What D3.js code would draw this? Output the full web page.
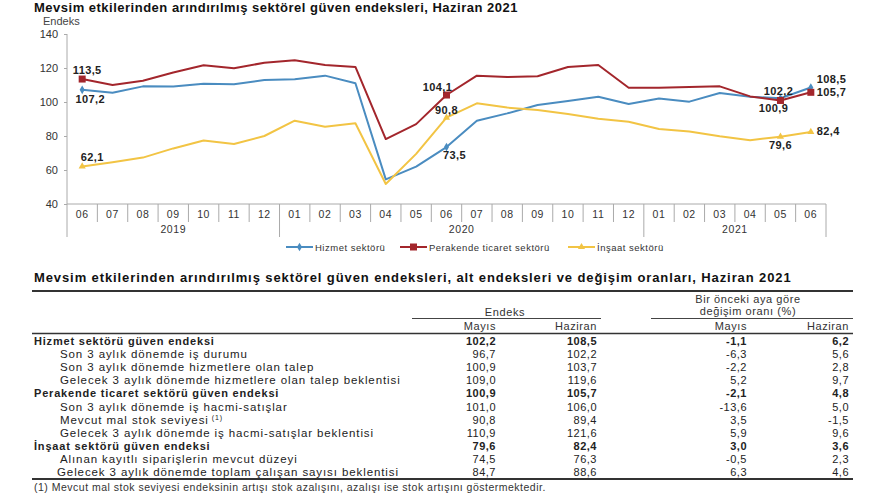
<!DOCTYPE html>
<html><head><meta charset="utf-8">
<script src="https://cdn.jsdelivr.net/npm/d3@7"></script>
<style>
body{margin:0;background:#fff}
text{font-family:"Liberation Sans",Arial,sans-serif}
</style>
</head><body>
<svg id="c" width="880" height="495"></svg>
<script>
// ---------- chart data ----------
const months = ["06","07","08","09","10","11","12","01","02","03","04","05","06","07","08","09","10","11","12","01","02","03","04","05","06"];
const yearLabels = ["2019","2020","2021"];
const yearStart = [0,7,19];
const yearEnd = [6,18,24];
const yTicks = [40,60,80,100,120,140];
const seriesNames = ["Hizmet sektörü","Perakende ticaret sektörü","İnşaat sektörü"];
const hizmet    = [107.2,105.5,109.2,109.1,110.8,110.4,112.9,113.4,115.5,111.0,54.5,62.0,73.5,89.0,93.3,98.2,100.6,103.1,98.8,102.0,100.2,105.3,103.1,102.2,108.5];
const perakende = [113.5,110.0,112.5,117.3,121.6,119.8,123.1,124.5,121.8,120.6,78.2,87.0,104.1,115.5,114.7,115.1,120.6,121.8,108.4,108.4,108.8,109.2,103.3,100.9,105.7];
const insaat    = [62.1,64.5,67.3,72.7,77.3,75.3,80.0,89.0,85.5,87.5,51.8,69.5,90.8,99.2,96.7,95.3,92.9,90.2,88.4,84.1,82.7,79.8,77.5,79.6,82.4];
const markedIdx = [0,12,23,24];

// ---------- table data ----------
const tableTitle = "Mevsim etkilerinden arındırılmış sektörel güven endeksleri, alt endeksleri ve değişim oranları, Haziran 2021";
const rowLabels = ["Hizmet sektörü güven endeksi","Son 3 aylık dönemde iş durumu","Son 3 aylık dönemde hizmetlere olan talep","Gelecek 3 aylık dönemde hizmetlere olan talep beklentisi","Perakende ticaret sektörü güven endeksi","Son 3 aylık dönemde iş hacmi-satışlar","Mevcut mal stok seviyesi","Gelecek 3 aylık dönemde iş hacmi-satışlar beklentisi","İnşaat sektörü güven endeksi","Alınan kayıtlı siparişlerin mevcut düzeyi","Gelecek 3 aylık dönemde toplam çalışan sayısı beklentisi"];
const rowLevel = [0,1,1,1,0,1,1,1,0,1,1];
const rowNote = ["","","","","","","(1)","","","",""];
const idxMayis   = [102.2,96.7,100.9,109.0,100.9,101.0,90.8,110.9,79.6,74.5,84.7];
const idxHaziran = [108.5,102.2,103.7,119.6,105.7,106.0,89.4,121.6,82.4,76.3,88.6];
const chgMayis   = [-1.1,-6.3,-2.2,5.2,-2.1,-13.6,3.5,5.9,3.0,-0.5,6.3];
const chgHaziran = [6.2,5.6,2.8,9.7,4.8,5.0,-1.5,9.6,3.6,2.3,4.6];
const footnote = "(1) Mevcut mal stok seviyesi endeksinin artışı stok azalışını, azalışı ise stok artışını göstermektedir.";

const fmt = v => d3.format(".1f")(v).replace(".", ",").replace("−","-");

const svg = d3.select("#c");
const colors = ["#4a8cc0","#a3262c","#f2c444"];
const series = [hizmet, perakende, insaat];

// title
svg.append("text").attr("x",34).attr("y",12).attr("font-size",13).attr("font-weight","bold")
  .attr("letter-spacing",0.5).attr("fill","#111")
  .text("Mevsim etkilerinden arındırılmış sektörel güven endeksleri, Haziran 2021");

const x = d3.scaleBand().domain(d3.range(months.length)).range([67,826]).padding(0);
const xc = i => x(i) + x.bandwidth()/2;
const y = d3.scaleLinear().domain([40,140]).range([204,34]);

// y axis
const yAx = svg.append("g").attr("transform","translate(67,0)")
  .call(d3.axisLeft(y).tickValues(yTicks).tickSize(3).tickPadding(6));
yAx.select(".domain").remove();
yAx.selectAll("line").attr("stroke","#aaa");
yAx.selectAll("text").attr("font-size",11).attr("fill","#333").attr("font-family","Liberation Sans, Arial, sans-serif");
svg.append("line").attr("x1",67).attr("x2",67).attr("y1",34).attr("y2",237).attr("stroke","#aaa");
svg.append("text").attr("x",43).attr("y",25).attr("font-size",11).attr("fill","#444").text("Endeks");

// x axis
svg.append("line").attr("x1",67).attr("x2",826).attr("y1",y(40)).attr("y2",y(40)).attr("stroke","#aaa");
const bounds = d3.range(1, months.length+1);
svg.selectAll(".sep").data(bounds).join("line")
  .attr("x1",i=>x(i-1)+x.bandwidth()).attr("x2",i=>x(i-1)+x.bandwidth())
  .attr("y1",y(40))
  .attr("y2",i=> (yearStart.includes(i) || i===months.length) ? 237 : 222)
  .attr("stroke","#aaa");
svg.selectAll(".mlab").data(months).join("text")
  .attr("x",(d,i)=>xc(i)).attr("y",218).attr("text-anchor","middle")
  .attr("font-size",10.5).attr("fill","#333").attr("letter-spacing",0.6).text(d=>d);
svg.selectAll(".ylab").data(yearLabels).join("text")
  .attr("x",(d,i)=>(xc(yearStart[i])+xc(yearEnd[i]))/2).attr("y",233).attr("text-anchor","middle")
  .attr("font-size",10.5).attr("fill","#333").attr("letter-spacing",0.6).text(d=>d);

// lines
const line = d3.line().x((d,i)=>xc(i)).y(d=>y(d));
series.forEach((s,k)=>{
  svg.append("path").datum(s).attr("d",line).attr("fill","none")
    .attr("stroke",colors[k]).attr("stroke-width",2).attr("stroke-linejoin","round");
});

function marker(g, k, cx, cy){
  if(k===0) g.append("path").attr("d",d3.symbol(d3.symbolDiamond,22)()).attr("transform",`translate(${cx},${cy})`).attr("fill",colors[0]);
  if(k===1) g.append("rect").attr("x",cx-3.5).attr("y",cy-3.5).attr("width",7).attr("height",7).attr("fill",colors[1]);
  if(k===2) g.append("path").attr("d",d3.symbol(d3.symbolTriangle,22)()).attr("transform",`translate(${cx},${cy})`).attr("fill",colors[2]);
}
series.forEach((s,k)=>{
  markedIdx.forEach(i=>marker(svg,k,xc(i),y(s[i])));
});

// annotation placements (series, index, dx, dy, anchor)
const annS = [1,0,2, 1,2,0, 0,1, 0,1, 2,2];
const annI = [0,0,0, 12,12,12, 23,23, 24,24, 23,24];
const annDx= [5,8,10, -9,0,8, -2,-7, 6,6, 0,6];
const annDy= [-5,13,-5, -4,-4,12, -3,12, -4.5,4, 12,3];
const annA = ["middle","middle","middle","middle","middle","middle","middle","middle","start","start","middle","start"];
annS.forEach((k,j)=>{
  const i = annI[j];
  svg.append("text").attr("x",xc(i)+annDx[j]).attr("y",y(series[k][i])+annDy[j])
    .attr("text-anchor",annA[j]).attr("font-size",11).attr("font-weight","bold")
    .attr("fill","#222").attr("letter-spacing",0.4).text(fmt(series[k][i]));
});

// legend
const legX = [286,400,568];
const legW = 27;
seriesNames.forEach((n,k)=>{
  const g = svg.append("g");
  g.append("line").attr("x1",legX[k]).attr("x2",legX[k]+legW).attr("y1",247).attr("y2",247).attr("stroke",colors[k]).attr("stroke-width",2);
  marker(g,k,legX[k]+legW/2,247);
  g.append("text").attr("x",legX[k]+legW+2).attr("y",250.5).attr("font-size",9.5).attr("fill","#333").attr("letter-spacing",0.5).text(n);
});

// ---------- table ----------
svg.append("text").attr("x",34).attr("y",282).attr("font-size",13).attr("font-weight","bold")
  .attr("letter-spacing",0.9).attr("fill","#111").text(tableTitle);
svg.append("line").attr("x1",32).attr("x2",853).attr("y1",291).attr("y2",291).attr("stroke","#333").attr("stroke-width",2);
svg.append("text").attr("x",505).attr("y",316).attr("text-anchor","middle").attr("font-size",11).attr("fill","#333").attr("letter-spacing",0.6).text("Endeks");
svg.append("text").attr("x",748).attr("y",303).attr("text-anchor","middle").attr("font-size",11).attr("fill","#333").attr("letter-spacing",0.6).text("Bir önceki aya göre");
svg.append("text").attr("x",748).attr("y",315).attr("text-anchor","middle").attr("font-size",11).attr("fill","#333").attr("letter-spacing",0.6).text("değişim oranı (%)");
svg.append("line").attr("x1",412).attr("x2",601).attr("y1",318.5).attr("y2",318.5).attr("stroke","#444");
svg.append("line").attr("x1",651).attr("x2",853).attr("y1",318.5).attr("y2",318.5).attr("stroke","#444");
const colRight = [496,597,747,849];
const colHead = ["Mayıs","Haziran","Mayıs","Haziran"];
colHead.forEach((h,c)=>svg.append("text").attr("x",colRight[c]).attr("y",330).attr("text-anchor","end")
  .attr("font-size",11).attr("fill","#333").attr("letter-spacing",0.6).text(h));
svg.append("line").attr("x1",32).attr("x2",853).attr("y1",333.5).attr("y2",333.5).attr("stroke","#333").attr("stroke-width",1.5);

const ry = d3.scalePoint().domain(d3.range(rowLabels.length)).range([345,476]);
const cols = [idxMayis, idxHaziran, chgMayis, chgHaziran];
rowLabels.forEach((lab,r)=>{
  const bold = rowLevel[r]===0;
  const t = svg.append("text").attr("x",bold?34:(r===10?57:60)).attr("y",ry(r))
    .attr("font-size",bold?11:11.5).attr("font-weight",bold?"bold":"normal").attr("fill","#222")
    .attr("letter-spacing",bold?0.8:0.9).text(lab);
  if(rowNote[r]) t.append("tspan").attr("font-size",7).attr("dy",-4).attr("dx",3).text(rowNote[r]);
  cols.forEach((arr,c)=>{
    svg.append("text").attr("x",colRight[c]).attr("y",ry(r)).attr("text-anchor","end")
      .attr("font-size",11).attr("font-weight",bold?"bold":"normal").attr("fill","#222").attr("letter-spacing",0.5).text(fmt(arr[r]));
  });
});
svg.append("line").attr("x1",32).attr("x2",853).attr("y1",479).attr("y2",479).attr("stroke","#333").attr("stroke-width",2);
svg.append("text").attr("x",34).attr("y",491).attr("font-size",10.5).attr("fill","#333").attr("letter-spacing",0.5).text(footnote);
</script>
</body></html>
